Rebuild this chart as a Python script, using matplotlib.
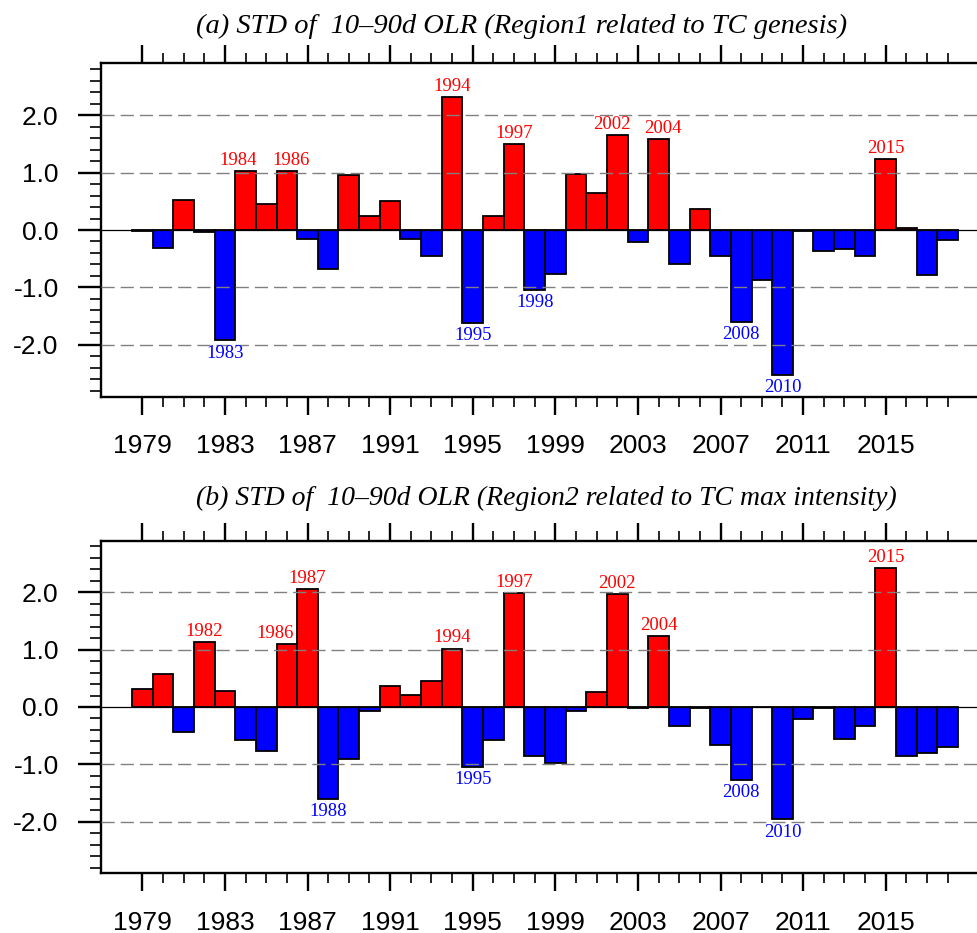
import matplotlib
matplotlib.use("Agg")
import matplotlib.pyplot as plt
from matplotlib.ticker import MultipleLocator, FixedLocator, FormatStrFormatter

plt.rcParams['axes.unicode_minus'] = False

years = list(range(1979, 2019))

# standardized 10-90d OLR, region 1 (TC genesis)
olr_r1 = [-0.01, -0.31, 0.53, -0.03, -1.92, 1.02, 0.45, 1.02, -0.16, -0.67,
          0.96, 0.24, 0.50, -0.16, -0.46, 2.31, -1.62, 0.24, 1.50, -1.04,
          -0.76, 0.97, 0.65, 1.65, -0.21, 1.59, -0.59, 0.37, -0.46, -1.60,
          -0.87, -2.52, -0.01, -0.37, -0.33, -0.45, 1.23, 0.04, -0.78, -0.17]

# standardized 10-90d OLR, region 2 (TC max intensity)
olr_r2 = [0.32, 0.57, -0.43, 1.13, 0.28, -0.57, -0.76, 1.09, 2.05, -1.60,
          -0.90, -0.07, 0.36, 0.21, 0.46, 1.02, -1.04, -0.58, 1.99, -0.86,
          -0.98, -0.07, 0.27, 1.97, -0.02, 1.24, -0.34, -0.01, -0.66, -1.27,
          0.00, -1.96, -0.21, -0.02, -0.55, -0.34, 2.43, -0.86, -0.80, -0.69]

r1_high = [1984, 1986, 1994, 1997, 2002, 2004, 2015]
r1_low = [1983, 1995, 1998, 2008, 2010]
r2_high = [1982, 1986, 1987, 1994, 1997, 2002, 2004, 2015]
r2_low = [1988, 1995, 2008, 2010]

titles = ["(a) STD of  10\u201390d OLR (Region1 related to TC genesis)",
          "(b) STD of  10\u201390d OLR (Region2 related to TC max intensity)"]

major_years = list(range(1979, 2016, 4))

# little sideways nudges so neighbouring labels don't collide (points)
nudge_a = {1984: -5, 1986: 3, 2002: -4, 2004: 3}
nudge_b = {1986: -8.5}

W, H = 977, 933
fig = plt.figure(figsize=(W / 100, H / 100), dpi=100)


def panel(rect, vals, high, low, nudge, title, title_y, title_size):
    ax = fig.add_axes(rect)
    cols = ['red' if v > 0 else 'blue' for v in vals]
    ax.bar(years, vals, width=1.0, color=cols, edgecolor='black', linewidth=1.3, zorder=2)
    for y in [-2, -1, 1, 2]:
        ax.axhline(y, color='#808080', lw=1.0, dashes=(9.5, 4.3), zorder=3)
    ax.axhline(0, color='black', lw=0.9, zorder=3)

    for yr in high:
        v = vals[years.index(yr)]
        ax.annotate(str(yr), (yr, v), xytext=(nudge.get(yr, 0), 1.5),
                    textcoords='offset points', ha='center', va='bottom',
                    color='red', fontsize=13.5, family='Liberation Serif', zorder=4)
    for yr in low:
        v = vals[years.index(yr)]
        ax.annotate(str(yr), (yr, v), xytext=(nudge.get(yr, 0), -3),
                    textcoords='offset points', ha='center', va='top',
                    color='blue', fontsize=13.5, family='Liberation Serif', zorder=4)

    ax.set_xlim(1977, 2020)
    ax.set_ylim(-2.9, 2.9)
    ax.xaxis.set_major_locator(FixedLocator(major_years))
    ax.xaxis.set_minor_locator(FixedLocator(years))
    ax.yaxis.set_major_locator(FixedLocator([-2, -1, 0, 1, 2]))
    ax.yaxis.set_minor_locator(MultipleLocator(0.2))
    ax.yaxis.set_major_formatter(FormatStrFormatter('%.1f'))

    ax.tick_params(axis='x', which='major', direction='out', length=13, width=1.7,
                   top=True, labelsize=19, pad=14)
    ax.tick_params(axis='x', which='minor', direction='out', length=7, width=1.2, top=True)
    ax.tick_params(axis='y', which='major', direction='out', length=16.5, width=1.7,
                   right=False, labelsize=19, pad=14)
    ax.tick_params(axis='y', which='minor', direction='out', length=8, width=1.2, right=False)
    for lab in ax.get_xticklabels() + ax.get_yticklabels():
        lab.set_family('Liberation Sans')
    for s in ax.spines.values():
        s.set_linewidth(1.7)

    fig.text(196 / W, 1 - title_y / H, title, ha='left', va='baseline',
             fontsize=title_size, style='italic', family='Liberation Serif')
    return ax


panel([101 / W, 1 - 396.7 / H, 888 / W, 333.4 / H], olr_r1, r1_high, r1_low,
      nudge_a, titles[0], 33, 20.5)
panel([101 / W, 1 - 873.3 / H, 888 / W, 332.6 / H], olr_r2, r2_high, r2_low,
      nudge_b, titles[1], 505, 20.0)

fig.savefig('out.png', dpi=100)
